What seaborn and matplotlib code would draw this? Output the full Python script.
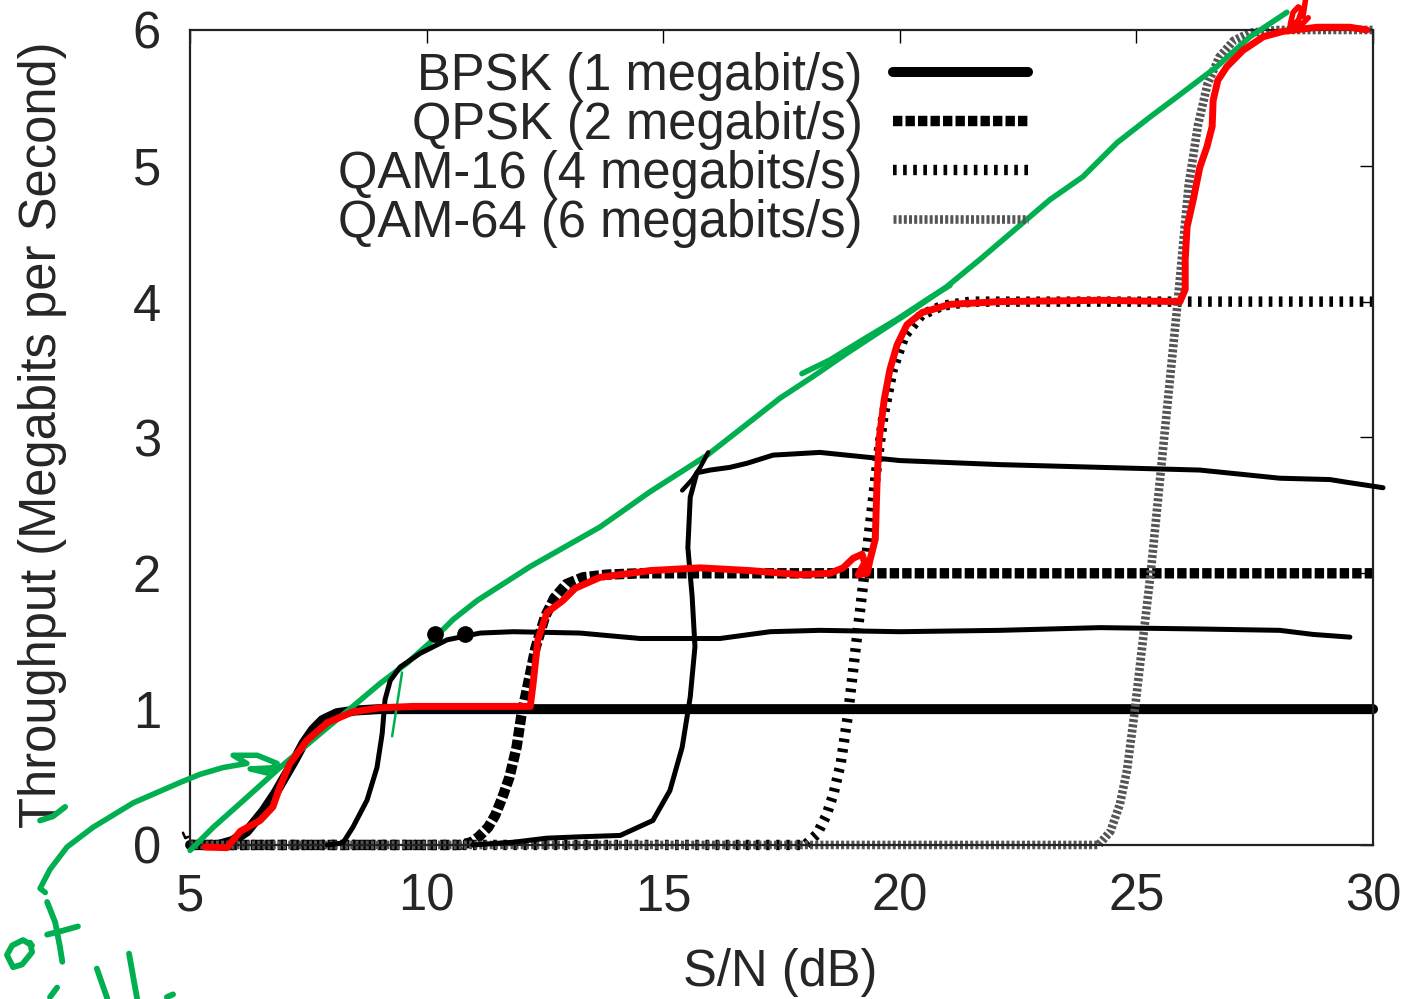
import matplotlib
matplotlib.use("Agg")
import matplotlib.pyplot as plt
import pandas as pd
import seaborn as sns

# ---- throughput curves: S/N (dB) vs throughput (Mb/s) ----
bpsk_snr = [5, 5.6, 5.9, 6.2, 6.55, 6.8, 7.0, 7.2, 7.4, 7.6, 7.8, 8.1, 8.5, 9, 30]
bpsk_tput = [0, 0, 0.03, 0.1, 0.25, 0.38, 0.5, 0.62, 0.75, 0.85, 0.92, 0.97, 0.99, 1, 1]

qpsk_snr = [5, 10.7, 10.95, 11.1, 11.3, 11.45, 11.6, 11.75, 11.9, 12.0, 12.15, 12.3,
            12.5, 12.7, 12.95, 13.3, 13.8, 14.5, 30]
qpsk_tput = [0, 0, 0.02, 0.06, 0.13, 0.22, 0.35, 0.5, 0.72, 0.95, 1.2, 1.45,
             1.68, 1.82, 1.92, 1.97, 1.99, 2, 2]

qam16_snr = [5, 18.0, 18.25, 18.45, 18.6, 18.75, 18.9, 19.05, 19.2, 19.35, 19.5, 19.65,
             19.85, 20.1, 20.45, 20.9, 21.5, 30]
qam16_tput = [0, 0, 0.08, 0.22, 0.38, 0.6, 0.95, 1.4, 1.85, 2.3, 2.75, 3.15,
              3.5, 3.75, 3.9, 3.97, 4, 4]

qam64_snr = [5, 24.2, 24.45, 24.65, 24.8, 24.95, 25.1, 25.3, 25.5, 25.7, 25.9, 26.1,
             26.3, 26.5, 26.75, 27.05, 27.4, 28, 30]
qam64_tput = [0, 0, 0.1, 0.3, 0.55, 0.95, 1.4, 2.0, 2.7, 3.4, 4.1, 4.85,
              5.3, 5.6, 5.8, 5.92, 5.98, 6, 6]

series_labels = ["BPSK (1 megabit/s)", "QPSK (2 megabit/s)",
                 "QAM-16 (4 megabits/s)", "QAM-64 (6 megabits/s)"]

x_ticks = [5, 10, 15, 20, 25, 30]
y_ticks = [0, 1, 2, 3, 4, 5, 6]

# ---- hand-drawn pen strokes over the plot (same S/N, Mb/s units) ----
red_x = [5.32, 5.78, 6.06, 6.48, 6.75, 6.90, 7.11, 7.47, 7.90, 8.44, 9.02, 9.71, 11.13,
         12.19, 12.25, 12.35, 12.54, 12.88, 13.14, 13.66, 14.72, 15.78, 16.83, 17.89,
         18.52, 18.80, 19.01, 19.20, 19.26, 19.12, 19.31, 19.37, 19.48, 19.52, 19.56,
         19.67, 19.79, 19.94, 20.15, 20.47, 21.06, 22.12, 24.23, 25.92, 26.03, 26.03,
         26.07, 26.20, 26.34, 26.49, 26.60, 26.62, 26.72, 26.91, 27.25, 27.68, 28.10,
         28.82, 29.51, 29.87]
red_y = [-0.015, -0.02, 0.10, 0.18, 0.28, 0.43, 0.60, 0.77, 0.90, 0.98, 1.01, 1.02, 1.02,
         1.02, 1.19, 1.51, 1.71, 1.80, 1.89, 1.97, 2.02, 2.04, 2.02, 1.99,
         2.00, 2.04, 2.11, 2.14, 2.08, 1.99, 2.00, 2.10, 2.25, 2.69, 2.98,
         3.28, 3.50, 3.68, 3.83, 3.92, 3.98, 4.00, 4.01, 4.00, 4.09, 4.31,
         4.55, 4.75, 4.99, 5.14, 5.29, 5.48, 5.63, 5.73, 5.85, 5.95, 5.99,
         6.02, 6.02, 6.00]
red_d_x = [28.25, 28.31, 28.42, 28.50, 28.42, 28.31, 28.52, 28.63]
red_d_y = [6.04, 6.13, 6.17, 6.15, 6.07, 6.04, 6.05, 6.09]
red_stem_x = [28.58, 28.52]
red_stem_y = [6.24, 6.10]

green_x = [5.00, 5.49, 6.20, 6.90, 7.75, 8.44, 9.02, 9.59, 10.07, 10.56, 11.07, 12.19,
           13.66, 14.72, 15.93, 17.47, 18.17, 18.88, 19.58, 20.28, 20.99, 21.69, 23.17,
           23.87, 24.59, 25.29, 25.98, 26.70, 27.40, 28.18]
green_y = [-0.04, 0.13, 0.35, 0.57, 0.82, 1.02, 1.19, 1.34, 1.49, 1.66, 1.80, 2.05,
           2.34, 2.60, 2.87, 3.29, 3.45, 3.62, 3.78, 3.94, 4.11, 4.31, 4.75,
           4.92, 5.17, 5.36, 5.54, 5.73, 5.95, 6.13]
green_b_x = [17.93, 18.52, 19.22, 19.94, 20.64, 21.06]
green_b_y = [3.47, 3.57, 3.72, 3.87, 4.03, 4.12]
green_swoop_x = [1.94, 1.83, 2.04, 2.40, 2.95, 3.80, 4.79, 5.21, 5.70, 6.20, 5.91, 6.42,
                 6.84, 6.63, 6.27, 6.90]
green_swoop_y = [-0.35, -0.32, -0.18, -0.015, 0.13, 0.31, 0.46, 0.52, 0.57, 0.60, 0.66, 0.66,
                 0.60, 0.53, 0.56, 0.57]
green_thin_x = [9.48, 9.27]
green_thin_y = [1.27, 0.80]
green_tick_x = [1.83, 2.10, 2.36]
green_tick_y = [0.18, 0.21, 0.28]
green_o_x = [1.66, 1.47, 1.24, 1.13, 1.26, 1.45, 1.66, 1.62]
green_o_y = [-0.74, -0.70, -0.74, -0.81, -0.90, -0.88, -0.79, -0.72]
green_t_x = [1.98, 2.15, 2.25, 2.30]
green_t_y = [-0.42, -0.57, -0.75, -0.86]
green_bar_x = [1.98, 2.32, 2.63]
green_bar_y = [-0.66, -0.63, -0.60]
green_l1_x = [3.03, 3.25]
green_l1_y = [-0.91, -1.13]
green_l2_x = [3.71, 3.88]
green_l2_y = [-0.80, -1.13]
green_i_x = [2.19, 2.04]
green_i_y = [-1.05, -1.12]
green_end_x = [4.51, 4.64]
green_end_y = [-1.12, -1.10]

black_a_x = [7.90, 8.23, 8.44, 8.74, 8.95, 9.06, 9.12, 9.23, 9.44, 9.86, 10.43, 11.13,
             11.83, 13.24, 14.51, 16.20, 17.26, 18.31, 20.00, 22.12, 24.23, 26.34, 28.03,
             28.73, 29.51]
black_a_y = [0, 0.015, 0.13, 0.33, 0.57, 0.82, 1.07, 1.21, 1.31, 1.41, 1.51, 1.56,
             1.57, 1.56, 1.52, 1.52, 1.57, 1.58, 1.57, 1.58, 1.60, 1.59, 1.58,
             1.55, 1.53]
black_b_x = [10.98, 11.83, 12.54, 13.24, 14.09, 14.78, 15.14, 15.40, 15.57, 15.67, 15.61,
             15.52, 15.57, 15.71, 15.99, 16.41, 16.77, 17.32, 18.31, 20.00, 22.12, 24.23,
             26.34, 28.03, 29.09, 29.45, 30.21]
black_b_y = [0, 0.02, 0.05, 0.06, 0.07, 0.18, 0.40, 0.72, 1.09, 1.46, 1.83,
             2.19, 2.56, 2.74, 2.76, 2.78, 2.81, 2.87, 2.89, 2.83, 2.80, 2.78,
             2.76, 2.70, 2.69, 2.67, 2.63]
black_hook_x = [15.40, 15.61, 15.78, 15.95]
black_hook_y = [2.61, 2.69, 2.78, 2.89]
black_dot_x = [10.18, 10.81]
black_dot_y = [1.55, 1.55]
black_nick_x = [4.85, 4.90, 4.96]
black_nick_y = [0.09, 0.05, 0.06]

# ---- style ----
sns.set_style("white")
plt.rcParams["font.family"] = ["Liberation Sans", "DejaVu Sans"]
plt.rcParams["font.size"] = 36.5

fig = plt.figure(figsize=(14.10, 9.99), dpi=100)
ax = fig.add_axes([0.1348, 0.1542, 0.8390, 0.8158])

styles = [
    dict(color="black", lw=7.2, ls="-"),
    dict(color="black", lw=7.5, ls=(0, (0.9, 0.3))),
    dict(color="black", lw=7.5, ls=(0, (0.35, 0.62))),
    dict(color="#555555", lw=6.2, ls=(0, (0.35, 0.25))),
]
curves = [(bpsk_snr, bpsk_tput), (qpsk_snr, qpsk_tput),
          (qam16_snr, qam16_tput), (qam64_snr, qam64_tput)]

for (sx, sy), lab, st in zip(curves, series_labels, styles):
    df = pd.DataFrame({"snr": sx, "tput": sy})
    sns.lineplot(data=df, x="snr", y="tput", ax=ax, estimator=None, sort=False,
                 color=st["color"], linewidth=st["lw"], linestyle=st["ls"],
                 label=lab, clip_on=False, zorder=2)

ax.set_xlim(5, 30)
ax.set_ylim(0, 6)
ax.set_xticks(x_ticks)
ax.set_yticks(y_ticks)
ax.tick_params(direction="in", length=9.5, width=1.0, top=True, right=True,
               labelsize=36.5, color="black")
ax.tick_params(axis="x", pad=20)
ax.tick_params(axis="y", pad=21)
for sp in ax.spines.values():
    sp.set_linewidth(1.6)
    sp.set_color("#222222")

ax.set_xlabel("S/N (dB)", fontsize=36.5)
ax.set_ylabel("Throughput (Megabits per Second)", fontsize=36.5)
ax.xaxis.set_label_coords(0.4987, -0.127)
ax.yaxis.set_label_coords(-0.104, 0.503)

leg = ax.legend(loc="upper right", bbox_to_anchor=(0.708, 0.973), frameon=False,
                markerfirst=False, handlelength=2.65, handletextpad=0.6,
                labelspacing=0.0, borderpad=0, borderaxespad=0, fontsize=36.5)

# pen strokes
pen = dict(solid_capstyle="round", solid_joinstyle="round", clip_on=False, zorder=5)
ax.plot(green_x, green_y, color="#00b050", lw=4.0, **pen)
ax.plot(green_b_x, green_b_y, color="#00b050", lw=4.0, **pen)
ax.plot(green_swoop_x, green_swoop_y, color="#00b050", lw=4.0, **pen)
ax.plot(green_thin_x, green_thin_y, color="#00b050", lw=1.8, **pen)
for gx, gy in [(green_tick_x, green_tick_y), (green_o_x, green_o_y),
               (green_t_x, green_t_y), (green_bar_x, green_bar_y),
               (green_l1_x, green_l1_y), (green_l2_x, green_l2_y),
               (green_i_x, green_i_y), (green_end_x, green_end_y)]:
    ax.plot(gx, gy, color="#00b050", lw=4.2, **pen)

ax.plot(black_a_x, black_a_y, color="black", lw=3.6, **pen)
ax.plot(black_b_x, black_b_y, color="black", lw=3.6, **pen)
ax.plot(black_hook_x, black_hook_y, color="black", lw=3.2, **pen)
ax.plot(black_nick_x, black_nick_y, color="black", lw=1.8, **pen)
ax.plot(black_dot_x, black_dot_y, ls="none", marker="o", ms=11, color="black", **pen)

ax.plot(red_x, red_y, color="#ff0000", lw=5.0, **pen)
ax.plot(red_d_x, red_d_y, color="#ff0000", lw=4.0, **pen)
ax.plot(red_stem_x, red_stem_y, color="#ff0000", lw=4.0, **pen)

fig.savefig("out.png", dpi=100)
